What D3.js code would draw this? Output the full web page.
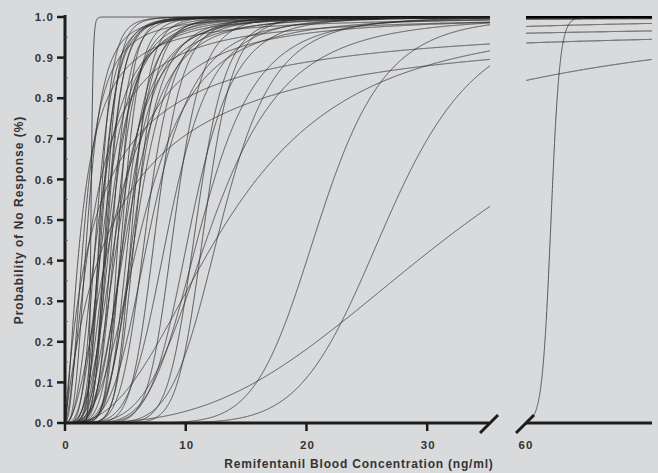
<!DOCTYPE html>
<html>
<head>
<meta charset="utf-8">
<script src="https://cdn.jsdelivr.net/npm/d3@7"></script>
<style>
body{margin:0;background:#d9dadc;}
svg{display:block;}
text{font-family:"Liberation Sans",Arial,sans-serif;font-weight:bold;fill:#333;}
</style>
</head>
<body>
<div id="chart"></div>
<script>
// one Hill curve per patient: C50 (ng/ml) and steepness gamma
var c50s=[2.15,1.66,1.9,2.3,2.65,2.8,3.1,3.3,3.6,3.9,4.1,4.3,4.6,4.8,5.1,5.4,5.6,5.8,6.5,6.8,
          7.2,7.6,8.7,9.1,10.5,10.9,11.4,11.6,12.3,13.0,13.5,21.1,26.7,33.6,2.5,4.1,3.0,3.4,3.7,4.0,
          4.4,5.0,5.3,5.9,2.9,3.5,4.5,6.0,1.4,62.15];
var gammas=[25,2.2,3.0,1.6,4,2.5,5,3,6,4,2,5,3.5,7,4,6,8,5,3,6,
            4,7,5,8,6,9,5,10,4,6,2.5,7.7,7.2,2.9,1.0,1.0,4.5,7,3.5,6,
            3,5,3.5,7,6,5.5,8,4.5,1.5,170];
var yticks=[0,0.1,0.2,0.3,0.4,0.5,0.6,0.7,0.8,0.9,1.0];
var xticksLeft=[0,10,20,30];
var xticksRight=[60];
var xdomLeft=[0,35.2], xdomRight=[60,70.5];

var ww=658,hh=473;
var x1=d3.scaleLinear().domain(xdomLeft).range([65,490]),
    x2=d3.scaleLinear().domain(xdomRight).range([525,652]),
    y=d3.scaleLinear().domain([0,1]).range([423,17]);

var svg=d3.select("#chart").append("svg")
          .attr("width",ww)
          .attr("height",hh);

var defs=svg.append("defs");
defs.append("clipPath").attr("id","clipL").append("rect")
    .attr("x",65).attr("y",0).attr("width",425).attr("height",424);
defs.append("clipPath").attr("id","clipR").append("rect")
    .attr("x",526).attr("y",0).attr("width",126).attr("height",424);

function hill(c,c50,g){
  if(c<=0) return 0;
  return 1/(1+Math.pow(c50/c,g));
}

var curves=c50s.map(function(c,i){return {c50:c,g:gammas[i]};});

var lineL=d3.line().x(function(d){return x1(d[0]);}).y(function(d){return y(d[1]);}),
    lineR=d3.line().x(function(d){return x2(d[0]);}).y(function(d){return y(d[1]);});

var gL=svg.append("g").attr("clip-path","url(#clipL)");
gL.selectAll("path.curve")
  .data(curves).enter()
  .append("path")
  .attr("class","curve")
  .attr("fill","none")
  .attr("stroke","#2e2e2e")
  .attr("stroke-width",0.8)
  .attr("d",function(d){
    var pts=d3.range(0,xdomLeft[1]+0.01,0.01).map(function(c){return [c,hill(c,d.c50,d.g)];});
    return lineL(pts);});

var gR=svg.append("g").attr("clip-path","url(#clipR)");
gR.selectAll("path.curve")
  .data(curves).enter()
  .append("path")
  .attr("class","curve")
  .attr("fill","none")
  .attr("stroke","#2e2e2e")
  .attr("stroke-width",0.8)
  .attr("d",function(d){
    var pts=d3.range(xdomRight[0],xdomRight[1]+0.005,0.005).map(function(c){return [c,hill(c,d.c50,d.g)];});
    return lineR(pts);});

// y axis
var ax="#1c1c1c";
svg.append("line").attr("x1",65).attr("x2",65).attr("y1",y(1)-2).attr("y2",y(0)+1)
   .attr("stroke",ax).attr("stroke-width",3);
svg.selectAll("line.ytick").data(yticks).enter().append("line")
   .attr("class","ytick")
   .attr("x1",57).attr("x2",65)
   .attr("y1",function(d){return y(d);}).attr("y2",function(d){return y(d);})
   .attr("stroke",ax).attr("stroke-width",2.5);
svg.selectAll("line.yminor").data(d3.range(0.05,1,0.1)).enter().append("line")
   .attr("class","yminor")
   .attr("x1",65).attr("x2",68)
   .attr("y1",function(d){return y(d);}).attr("y2",function(d){return y(d);})
   .attr("stroke","#555").attr("stroke-width",0.8);
svg.selectAll("text.ylbl").data(yticks).enter().append("text")
   .attr("class","ylbl")
   .attr("x",54).attr("y",function(d){return y(d);})
   .attr("dy",".36em")
   .attr("text-anchor","end")
   .style("font-size","11.5px")
   .style("letter-spacing","1.1px")
   .text(function(d){return d3.format(".1f")(d);});
svg.append("text")
   .attr("transform","translate(23,220) rotate(-90)")
   .attr("text-anchor","middle")
   .style("font-size","12px")
   .style("letter-spacing","1px")
   .text("Probability of No Response (%)");

// x axis, broken
svg.append("line").attr("x1",64).attr("x2",489).attr("y1",y(0)).attr("y2",y(0))
   .attr("stroke",ax).attr("stroke-width",3);
svg.append("line").attr("x1",526).attr("x2",652).attr("y1",y(0)).attr("y2",y(0))
   .attr("stroke",ax).attr("stroke-width",3);
svg.append("line").attr("x1",480).attr("y1",433).attr("x2",498).attr("y2",415)
   .attr("stroke",ax).attr("stroke-width",3);
svg.append("line").attr("x1",516).attr("y1",433).attr("x2",534).attr("y2",415)
   .attr("stroke",ax).attr("stroke-width",3);
svg.selectAll("line.xtick").data(xticksLeft).enter().append("line")
   .attr("class","xtick")
   .attr("x1",function(d){return x1(d);}).attr("x2",function(d){return x1(d);})
   .attr("y1",y(0)).attr("y2",y(0)+8)
   .attr("stroke",ax).attr("stroke-width",2.5);
svg.selectAll("text.xlbl").data(xticksLeft).enter().append("text")
   .attr("class","xlbl")
   .attr("x",function(d){return x1(d)+1;}).attr("y",449)
   .attr("text-anchor","middle")
   .style("font-size","11.5px")
   .style("letter-spacing","1.1px")
   .text(function(d){return d;});
svg.selectAll("text.xlbl2").data(xticksRight).enter().append("text")
   .attr("class","xlbl2")
   .attr("x",function(d){return x2(d)+1;}).attr("y",449)
   .attr("text-anchor","middle")
   .style("font-size","11.5px")
   .style("letter-spacing","1.1px")
   .text(function(d){return d;});
svg.append("text")
   .attr("x",359).attr("y",468)
   .attr("text-anchor","middle")
   .style("font-size","12px")
   .style("letter-spacing","0.8px")
   .text("Remifentanil Blood Concentration (ng/ml)");
</script>
</body>
</html>
